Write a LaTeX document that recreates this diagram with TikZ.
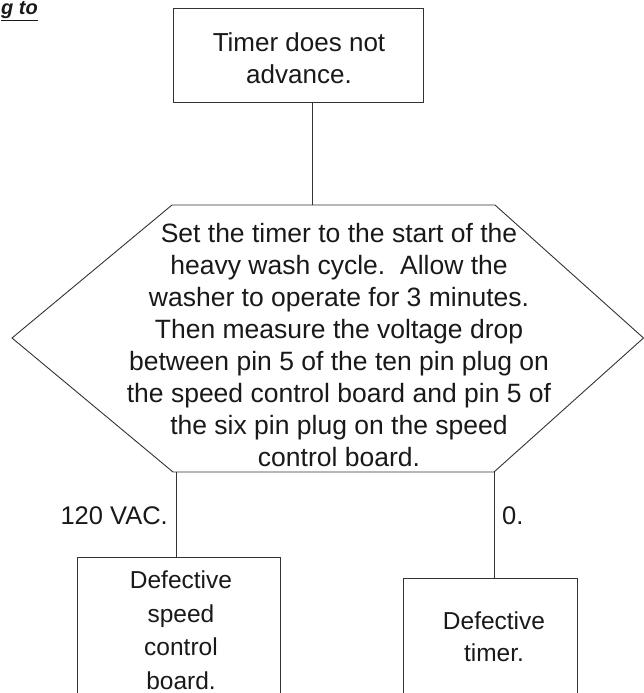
\documentclass[tikz,border=0pt]{standalone}
\usepackage{fontspec}
\setmainfont{Liberation Sans}
\begin{document}
\begin{tikzpicture}[x=1pt,y=-1pt,
  lines/.style={draw=black!80, line width=0.9pt},
  boxshape/.style={lines, rectangle, inner sep=0pt},
  txt/.style={align=center, text=black!90, inner sep=0pt, font=\fontsize{26.5}{32}\selectfont},
  lbl/.style={text=black!90, inner sep=0pt, font=\fontsize{25.5}{32}\selectfont}]
\useasboundingbox (0,0) rectangle (644,693);

% heading fragment
\node[anchor=base east, inner sep=0pt, font=\fontsize{20}{22}\selectfont\bfseries\itshape, text=black!90] (head) at (38,15) {\underline{g to}};

% top box
\node[boxshape, minimum width=250pt, minimum height=94pt] (top) at (298,55) {};
\node[txt, font=\fontsize{26}{32}\selectfont] (toptxt) at (299,58) {Timer does not\\advance.};

% hexagon
\coordinate (hTL) at (172,205);
\coordinate (hTR) at (495,205);
\coordinate (hR) at (643.5,338);
\coordinate (hBR) at (494,472);
\coordinate (hBL) at (173,472);
\coordinate (hL) at (12,338);
\draw[lines, line join=miter] (hTL) -- (hTR) -- (hR) -- (hBR) -- (hBL) -- (hL) -- cycle;
\node[txt] (hextxt) at (339,345) {Set the timer to the start of the\\heavy wash cycle.\ \ Allow the\\washer to operate for 3 minutes.\\Then measure the voltage drop\\between pin 5 of the ten pin plug on\\the speed control board and pin 5 of\\the six pin plug on the speed\\control board.};
\coordinate (hIn) at (312,205);
\coordinate (hOutL) at (176,472);
\coordinate (hOutR) at (494,472);

% bottom boxes
\node[boxshape, minimum width=203pt, minimum height=170pt] (lbox) at (178.5,642) {};
\node[txt, font=\fontsize{24.5}{33.5}\selectfont] (ltxt) at (181,630) {Defective\\speed\\control\\board.};
\node[boxshape, minimum width=174pt, minimum height=150pt] (rbox) at (490,653) {};
\node[txt, font=\fontsize{24.5}{32}\selectfont] (rtxt) at (494,637) {Defective\\timer.};

% connectors
\draw[lines] (top.south -| hIn) -- (hIn);
\draw[lines] (hOutL) -- (lbox.north -| hOutL);
\draw[lines] (hOutR) -- (rbox.north -| hOutR);

% branch labels
\node[lbl, anchor=east] (l120) at (168,516) {120 VAC.};
\node[lbl, anchor=west] (l0) at (502,516) {0.};
\end{tikzpicture}
\end{document}
